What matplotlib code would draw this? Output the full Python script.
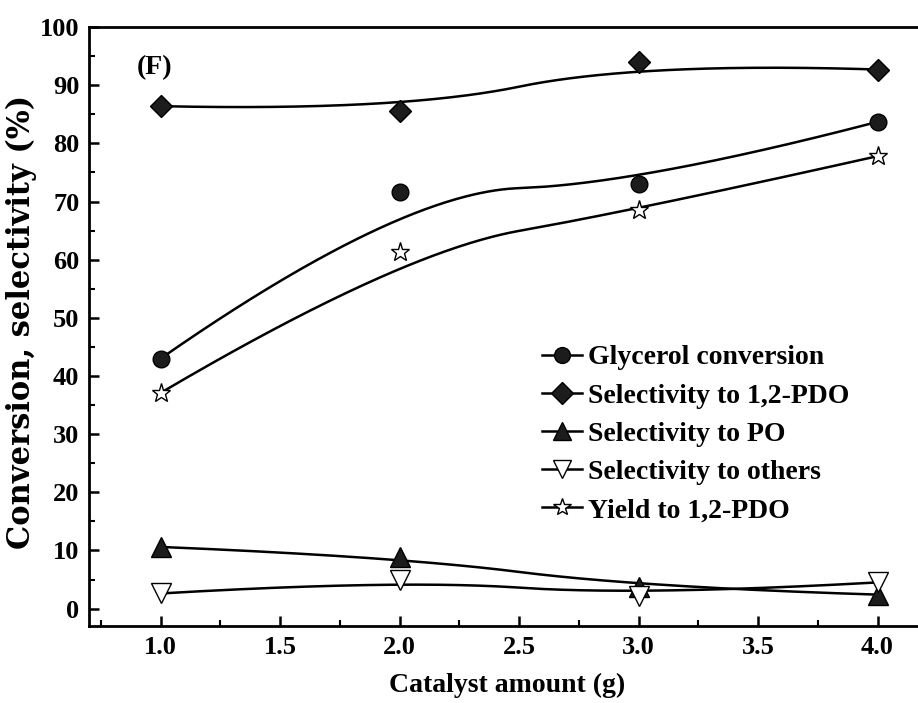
import numpy as np
import matplotlib
matplotlib.use("Agg")
import matplotlib.pyplot as plt
from matplotlib.lines import Line2D
from matplotlib.ticker import MultipleLocator, FormatStrFormatter

# catalyst loading (g) and measured values (%)
catalyst = [1.0, 2.0, 3.0, 4.0]
glycerol_conv = [43.0, 71.6, 73.0, 83.7]
sel_pdo = [86.4, 85.5, 94.0, 92.7]
sel_po = [10.6, 8.9, 3.7, 2.4]
sel_others = [2.6, 5.0, 2.2, 4.5]
yield_pdo = [37.1, 61.3, 68.6, 77.8]

series_names = ["Glycerol conversion", "Selectivity to 1,2-PDO",
                "Selectivity to PO", "Selectivity to others",
                "Yield to 1,2-PDO"]


def bspline_basis(i, k, u, knots):
    """Cox-de Boor recursion for the i-th basis function of degree k."""
    if k == 0:
        if knots[i + 1] == knots[-1]:
            return np.where((u >= knots[i]) & (u <= knots[i + 1]), 1.0, 0.0)
        return np.where((u >= knots[i]) & (u < knots[i + 1]), 1.0, 0.0)
    out = np.zeros_like(u)
    d1 = knots[i + k] - knots[i]
    d2 = knots[i + k + 1] - knots[i + 1]
    if d1 > 0:
        out += (u - knots[i]) / d1 * bspline_basis(i, k - 1, u, knots)
    if d2 > 0:
        out += (knots[i + k + 1] - u) / d2 * bspline_basis(i + 1, k - 1, u, knots)
    return out


def bspline_curve(x, y, degree=2, num=300):
    """Clamped B-spline using the data points as control points."""
    n = len(x)
    inner = list(range(1, n - degree))
    knots = np.array([0] * (degree + 1) + inner + [n - degree] * (degree + 1), dtype=float)
    u = np.linspace(0, knots[-1], num)
    px = np.zeros(num)
    py = np.zeros(num)
    for i in range(n):
        b = bspline_basis(i, degree, u, knots)
        px += b * x[i]
        py += b * y[i]
    return px, py


plt.rcParams["font.family"] = "serif"
plt.rcParams["font.serif"] = ["Liberation Serif", "DejaVu Serif"]
plt.rcParams["font.weight"] = "bold"

fig = plt.figure(figsize=(9.18, 7.03), dpi=100)
ax = fig.add_axes([0.097, 0.1095, 0.911, 0.852])

dark = "#1c1c1c"
styles = [
    dict(marker="o", mfc=dark, ms=12),
    dict(marker="D", mfc=dark, ms=11.5),
    dict(marker="^", mfc=dark, ms=14),
    dict(marker="v", mfc="white", ms=14),
    dict(marker="*", mfc="white", ms=14),
]
all_series = [glycerol_conv, sel_pdo, sel_po, sel_others, yield_pdo]

handles = []
for vals, st, name in zip(all_series, styles, series_names):
    cx, cy = bspline_curve(catalyst, vals)
    ax.plot(cx, cy, color="black", lw=1.8, zorder=2)
    ax.plot(catalyst, vals, ls="none", marker=st["marker"], ms=st["ms"],
            mfc=st["mfc"], mec="black", mew=1.0, zorder=3)
    handles.append(Line2D([], [], color="black", lw=1.8, marker=st["marker"],
                          ms=st["ms"] * 0.95, mfc=st["mfc"], mec="black",
                          mew=1.0, label=name))

ax.set_xlim(0.7, 4.2)
ax.set_ylim(-3, 100)
ax.xaxis.set_major_locator(MultipleLocator(0.5))
ax.xaxis.set_minor_locator(MultipleLocator(0.25))
ax.yaxis.set_major_locator(MultipleLocator(10))
ax.yaxis.set_minor_locator(MultipleLocator(5))
ax.xaxis.set_major_formatter(FormatStrFormatter("%.1f"))

ax.tick_params(which="both", direction="in", labelsize=19, top=False, right=False)
ax.tick_params(which="major", length=7, width=1.8, pad=7)
ax.tick_params(which="minor", length=4, width=1.5)
for side in ["left", "bottom", "top"]:
    ax.spines[side].set_linewidth(2)
ax.spines["right"].set_visible(False)

ax.set_xlabel("Catalyst amount (g)", fontsize=20, fontweight="bold", labelpad=10)
ax.set_ylabel("Conversion, selectivity (%)", fontsize=22, fontweight="bold",
              family="DejaVu Serif")
ax.yaxis.set_label_coords(-0.062, 0.507)

ax.text(0.9, 93, "(F)", fontsize=20, fontweight="bold", va="center", ha="left")

ax.legend(handles=handles, loc="upper left", bbox_to_anchor=(0.528, 0.488),
          frameon=False, fontsize=20, handlelength=1.45, handletextpad=0.2,
          labelspacing=0.46, borderaxespad=0)

fig.savefig("out.png", dpi=100)
